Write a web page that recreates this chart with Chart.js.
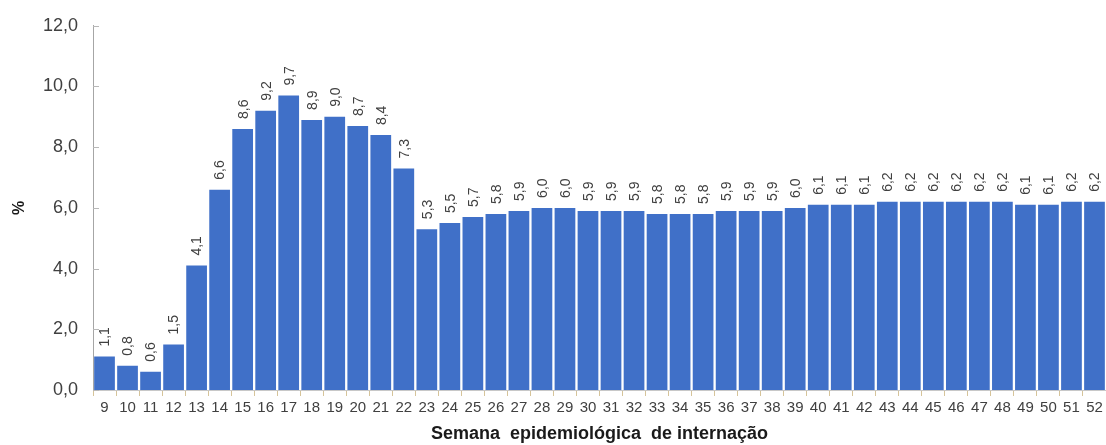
<!DOCTYPE html>
<html lang="pt">
<head>
<meta charset="utf-8">
<style>
  html, body { margin: 0; padding: 0; background: #ffffff; }
  #wrap { width: 1106px; height: 445px; position: relative; }
</style>
<script src="https://cdn.jsdelivr.net/npm/chart.js@4/dist/chart.umd.min.js"></script>
</head>
<body>
<div id="wrap"><canvas id="grafico"></canvas></div>
<script>
// Semanas epidemiológicas de internação
const semanas = [9, 10, 11, 12, 13, 14, 15, 16, 17, 18, 19, 20, 21, 22, 23, 24, 25, 26, 27, 28, 29, 30,
                 31, 32, 33, 34, 35, 36, 37, 38, 39, 40, 41, 42, 43, 44, 45, 46, 47, 48, 49, 50, 51, 52];

// Percentual por semana
const percentuais = [1.1, 0.8, 0.6, 1.5, 4.1, 6.6, 8.6, 9.2, 9.7, 8.9, 9.0, 8.7, 8.4, 7.3, 5.3, 5.5,
                     5.7, 5.8, 5.9, 6.0, 6.0, 5.9, 5.9, 5.9, 5.8, 5.8, 5.8, 5.9, 5.9, 5.9, 6.0, 6.1,
                     6.1, 6.1, 6.2, 6.2, 6.2, 6.2, 6.2, 6.2, 6.1, 6.1, 6.2, 6.2];

const yMin = 0, yMax = 12, yPasso = 2;

const virgula = v => v.toFixed(1).replace('.', ',');

// Rótulos verticais com o valor acima de cada barra
const rotulosBarras = {
  id: 'rotulosBarras',
  afterDatasetsDraw(chart) {
    const ctx = chart.ctx;
    const meta = chart.getDatasetMeta(0);
    ctx.save();
    ctx.font = '14px "Liberation Sans", Arial, sans-serif';
    ctx.fillStyle = '#404040';
    ctx.textAlign = 'left';
    ctx.textBaseline = 'middle';
    meta.data.forEach((bar, i) => {
      ctx.save();
      ctx.translate(bar.x, bar.y - 10);
      ctx.rotate(-Math.PI / 2);
      ctx.fillText(virgula(chart.data.datasets[0].data[i]), 0, 1);
      ctx.restore();
    });
    ctx.restore();
  }
};

// Pequenas marcas internas no eixo vertical
const marcasEixoY = {
  id: 'marcasEixoY',
  afterDraw(chart) {
    const ctx = chart.ctx;
    const y = chart.scales.y;
    ctx.save();
    ctx.strokeStyle = '#b8b8b8';
    ctx.lineWidth = 1;
    y.ticks.forEach(t => {
      const py = Math.round(y.getPixelForValue(t.value)) + 0.5;
      ctx.beginPath();
      ctx.moveTo(y.right, py);
      ctx.lineTo(y.right + 6, py);
      ctx.stroke();
    });
    ctx.restore();
  }
};

new Chart(document.getElementById('grafico'), {
  type: 'bar',
  data: {
    labels: semanas.map(String),
    datasets: [{
      data: percentuais,
      backgroundColor: '#4070c8',
      borderWidth: 0,
      barPercentage: 0.9,
      categoryPercentage: 1.0
    }]
  },
  options: {
    responsive: true,
    maintainAspectRatio: false,
    animation: false,
    layout: { padding: { left: 0, right: 0, top: 21, bottom: 0 } },
    plugins: {
      legend: { display: false },
      tooltip: { enabled: false }
    },
    scales: {
      x: {
        offset: true,
        grid: {
          display: true,
          offset: true,
          drawOnChartArea: false,
          drawTicks: true,
          tickLength: 6,
          color: '#d6c49a'
        },
        border: { display: true, color: '#c8c8c8' },
        ticks: {
          color: '#404040',
          font: { family: '"Liberation Sans", Arial, sans-serif', size: 15 },
          padding: 3,
          maxRotation: 0,
          autoSkip: false
        },
        title: {
          display: true,
          text: 'Semana  epidemiológica  de internação',
          color: '#1a1a1a',
          font: { family: '"Liberation Sans", Arial, sans-serif', size: 18, weight: 'bold' },
          padding: { top: 0, bottom: 0 }
        },
        afterFit(scale) { scale.height = 55; }
      },
      y: {
        min: yMin,
        max: yMax,
        grid: { display: false, drawTicks: false },
        border: { display: true, color: '#a6a6a6' },
        ticks: {
          stepSize: yPasso,
          color: '#404040',
          font: { family: '"Liberation Sans", Arial, sans-serif', size: 18 },
          padding: 15,
          callback: v => virgula(v)
        },
        title: {
          display: true,
          text: '%',
          color: '#1a1a1a',
          font: { family: '"Liberation Sans", Arial, sans-serif', size: 16, weight: 'bold' },
          padding: { top: 10, bottom: 0 }
        },
        afterFit(scale) { scale.width = 93; }
      }
    }
  },
  plugins: [rotulosBarras, marcasEixoY]
});
</script>
</body>
</html>
